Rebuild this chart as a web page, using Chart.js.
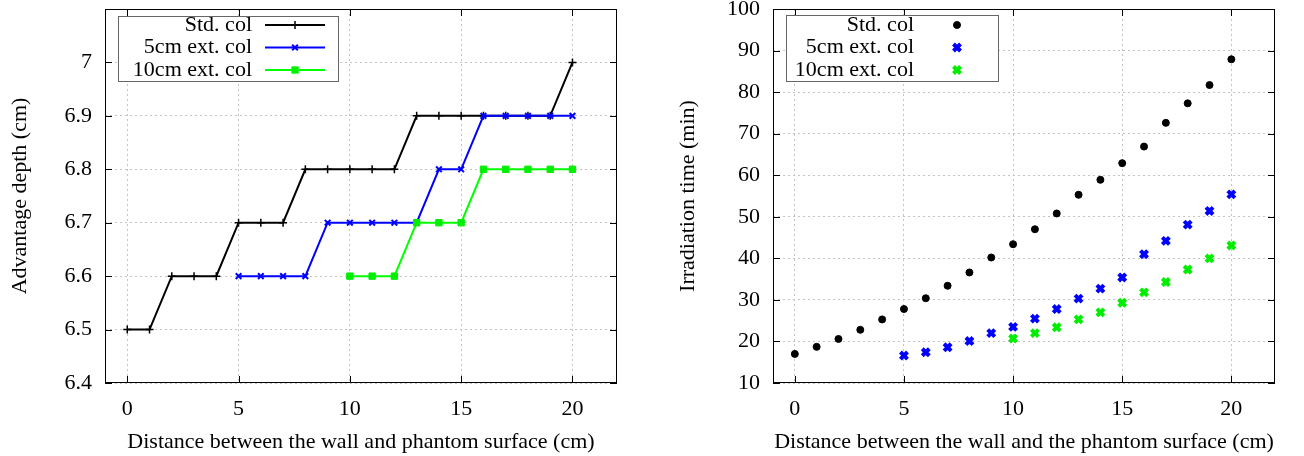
<!DOCTYPE html>
<html>
<head>
<meta charset="utf-8">
<script src="https://cdn.jsdelivr.net/npm/chart.js@4"></script>
<style>
  html, body { margin: 0; padding: 0; background: #fff; }
  .box { position: absolute; top: 0; width: 652px; height: 456px; }
  #left { left: 0; }
  #right { left: 652px; }
</style>
</head>
<body>
<div class="box" id="left"><canvas id="depthChart" width="652" height="456"></canvas></div>
<div class="box" id="right"><canvas id="timeChart" width="652" height="456"></canvas></div>
<script>
// wall distance (cm) for each collimator
const distStd = [0, 1, 2, 3, 4, 5, 6, 7, 8, 9, 10, 11, 12, 13, 14, 15, 16, 17, 18, 19, 20];
const dist5 = [5, 6, 7, 8, 9, 10, 11, 12, 13, 14, 15, 16, 17, 18, 19, 20];
const dist10 = [10, 11, 12, 13, 14, 15, 16, 17, 18, 19, 20];

// advantage depth (cm)
const depthStd = [6.5, 6.5, 6.6, 6.6, 6.6, 6.7, 6.7, 6.7, 6.8, 6.8, 6.8, 6.8, 6.8, 6.9, 6.9, 6.9, 6.9, 6.9, 6.9, 6.9, 7.0];
const depth5 = [6.6, 6.6, 6.6, 6.6, 6.7, 6.7, 6.7, 6.7, 6.7, 6.8, 6.8, 6.9, 6.9, 6.9, 6.9, 6.9];
const depth10 = [6.6, 6.6, 6.6, 6.7, 6.7, 6.7, 6.8, 6.8, 6.8, 6.8, 6.8];

// irradiation time (min)
const timeStd = [17.0, 18.7, 20.6, 22.8, 25.3, 27.8, 30.4, 33.4, 36.6, 40.2, 43.4, 47.0, 50.8, 55.3, 58.9, 62.9, 66.9, 72.6, 77.3, 81.7, 87.9];
const time5 = [16.6, 17.4, 18.6, 20.1, 22.0, 23.5, 25.5, 27.8, 30.3, 32.7, 35.4, 41.0, 44.2, 48.1, 51.4, 55.4];
const time10 = [20.7, 22.0, 23.4, 25.3, 27.0, 29.3, 31.8, 34.3, 37.3, 40.0, 43.1];

const seriesNames = ["Std. col", "5cm ext. col", "10cm ext. col"];
const xTicks = [0, 5, 10, 15, 20];
const depthTicks = [6.4, 6.5, 6.6, 6.7, 6.8, 6.9, 7.0];
const timeTicks = [10, 20, 30, 40, 50, 60, 70, 80, 90, 100];

const pts = (xs, ys) => xs.map((x, i) => ({ x: x, y: ys[i] }));

const serif = '"Liberation Serif", "Times New Roman", serif';
const font = { family: serif, size: 22 };

// gnuplot-like box around the plot with small inward ticks
const framePlugin = {
  id: "frame",
  beforeDatasetsDraw(chart) {
    const { ctx, chartArea: a, scales } = chart;
    ctx.save();
    ctx.strokeStyle = "#000";
    ctx.lineWidth = 1;
    ctx.beginPath();
    scales.x.ticks.forEach(t => {
      const px = Math.round(scales.x.getPixelForValue(t.value)) + 0.5;
      ctx.moveTo(px, a.bottom); ctx.lineTo(px, a.bottom - 7);
      ctx.moveTo(px, a.top); ctx.lineTo(px, a.top + 7);
    });
    scales.y.ticks.forEach(t => {
      const py = Math.round(scales.y.getPixelForValue(t.value)) + 0.5;
      ctx.moveTo(a.left, py); ctx.lineTo(a.left + 7, py);
      ctx.moveTo(a.right, py); ctx.lineTo(a.right - 7, py);
    });
    ctx.stroke();
    ctx.strokeRect(Math.round(a.left) + 0.5, Math.round(a.top) + 0.5,
      Math.round(a.width) - 1, Math.round(a.height) - 1);
    ctx.restore();
  }
};

// key box drawn inside the plot, text right-aligned with the sample on its right
const keyPlugin = {
  id: "key",
  afterDatasetsDraw(chart, args, o) {
    const { ctx, chartArea: a } = chart;
    ctx.save();
    ctx.fillStyle = "#fff";
    ctx.fillRect(a.left + o.boxLeft, a.top + o.boxTop, o.boxWidth, o.boxHeight);
    ctx.strokeStyle = "#666";
    ctx.lineWidth = 1;
    ctx.strokeRect(a.left + o.boxLeft + 0.5, a.top + o.boxTop + 0.5, o.boxWidth, o.boxHeight);
    ctx.font = "22px " + serif;
    ctx.textAlign = "right";
    ctx.textBaseline = "middle";
    chart.data.datasets.forEach((ds, i) => {
      const y = a.top + o.rowTop + i * o.rowStep;
      ctx.fillStyle = "#000";
      ctx.fillText(ds.label, a.left + o.textRight, y);
      ctx.strokeStyle = ds.borderColor;
      ctx.fillStyle = ds.pointBackgroundColor;
      if (o.line) {
        ctx.lineWidth = ds.borderWidth;
        ctx.beginPath();
        ctx.moveTo(a.left + o.lineFrom, y);
        ctx.lineTo(a.left + o.lineTo, y);
        ctx.stroke();
      }
      ctx.lineWidth = ds.pointBorderWidth;
      Chart.helpers.drawPoint(ctx, {
        pointStyle: ds.pointStyle, radius: ds.pointRadius,
        borderWidth: ds.pointBorderWidth, rotation: 0
      }, a.left + o.mark, y);
    });
    ctx.restore();
  }
};

function axes(yMin, yMax, yTicks, xTitle, yTitle) {
  return {
    x: {
      type: "linear", min: -1, max: 22,
      afterBuildTicks: s => { s.ticks = xTicks.map(v => ({ value: v })); },
      afterFit: s => { s.height = 73; s.paddingLeft = 0; s.paddingRight = 0; },
      grid: { color: "#c4c4c4", lineWidth: 1, drawTicks: false },
      border: { display: false, dash: [2, 3] },
      ticks: { color: "#000", font: font, padding: 13, maxRotation: 0, callback: v => String(v) },
      title: { display: true, text: xTitle, color: "#000", font: font, padding: { top: 0, bottom: 1 } }
    },
    y: {
      type: "linear", min: yMin, max: yMax,
      afterBuildTicks: s => { s.ticks = yTicks.map(v => ({ value: v })); },
      afterFit: s => { s.width = 105; s.paddingTop = 0; s.paddingBottom = 0; },
      grid: { color: "#c4c4c4", lineWidth: 1, drawTicks: false },
      border: { display: false, dash: [2, 3] },
      ticks: { color: "#000", font: font, padding: 13, callback: v => String(v) },
      title: { display: true, text: yTitle, color: "#000", font: font, padding: { top: 7, bottom: 0 } }
    }
  };
}

Chart.defaults.font.family = serif;

new Chart(document.getElementById("depthChart"), {
  type: "line",
  data: {
    datasets: [
      {
        label: seriesNames[0], data: pts(distStd, depthStd), order: 2,
        borderColor: "#000", borderWidth: 2, pointStyle: "cross",
        pointRadius: 4, pointBorderWidth: 1.5, pointBorderColor: "#000", pointBackgroundColor: "#000"
      },
      {
        label: seriesNames[1], data: pts(dist5, depth5), order: 1,
        borderColor: "#0000ff", borderWidth: 2, pointStyle: "crossRot",
        pointRadius: 4, pointBorderWidth: 2, pointBorderColor: "#0000ff", pointBackgroundColor: "#0000ff"
      },
      {
        label: seriesNames[2], data: pts(dist10, depth10), order: 0,
        borderColor: "#00ff00", borderWidth: 2, pointStyle: "rect",
        pointRadius: 4.5, pointBorderWidth: 1, pointBorderColor: "#00ee00", pointBackgroundColor: "#00ee00"
      }
    ]
  },
  options: {
    responsive: false,
    animation: false,
    devicePixelRatio: 1,
    layout: { padding: { left: 0, right: 35, top: 9, bottom: 0 } },
    elements: { line: { tension: 0, fill: false } },
    scales: axes(6.4, 7.1, depthTicks,
      "Distance between the wall and phantom surface (cm)", "Advantage depth (cm)"),
    plugins: {
      legend: { display: false },
      tooltip: { enabled: false },
      key: { boxLeft: 13, boxTop: 7, boxWidth: 220, boxHeight: 65, rowTop: 16, rowStep: 22.5,
             textRight: 147, line: true, lineFrom: 160, lineTo: 220, mark: 190 }
    }
  },
  plugins: [framePlugin, keyPlugin]
});

new Chart(document.getElementById("timeChart"), {
  type: "scatter",
  data: {
    datasets: [
      {
        label: seriesNames[0], data: pts(distStd, timeStd), order: 2,
        borderColor: "#000", pointStyle: "circle", pointRadius: 3.5, pointBorderWidth: 1,
        pointBorderColor: "#000", pointBackgroundColor: "#000"
      },
      {
        label: seriesNames[1], data: pts(dist5, time5), order: 1,
        borderColor: "#0000ff", pointStyle: "crossRot", pointRadius: 5, pointBorderWidth: 4,
        pointBorderColor: "#0000ff", pointBackgroundColor: "#0000ff"
      },
      {
        label: seriesNames[2], data: pts(dist10, time10), order: 0,
        borderColor: "#00ee00", pointStyle: "crossRot", pointRadius: 5, pointBorderWidth: 4,
        pointBorderColor: "#00ee00", pointBackgroundColor: "#00ee00"
      }
    ]
  },
  options: {
    responsive: false,
    animation: false,
    devicePixelRatio: 1,
    layout: { padding: { left: 16, right: 29, top: 9, bottom: 0 } },
    scales: axes(10, 100, timeTicks,
      "Distance between the wall and the phantom surface (cm)", "Irradiation time (min)"),
    plugins: {
      legend: { display: false },
      tooltip: { enabled: false },
      key: { boxLeft: 13, boxTop: 6, boxWidth: 212, boxHeight: 66, rowTop: 16, rowStep: 22.5,
             textRight: 141, line: false, mark: 184 }
    }
  },
  plugins: [framePlugin, keyPlugin]
});
</script>
</body>
</html>
